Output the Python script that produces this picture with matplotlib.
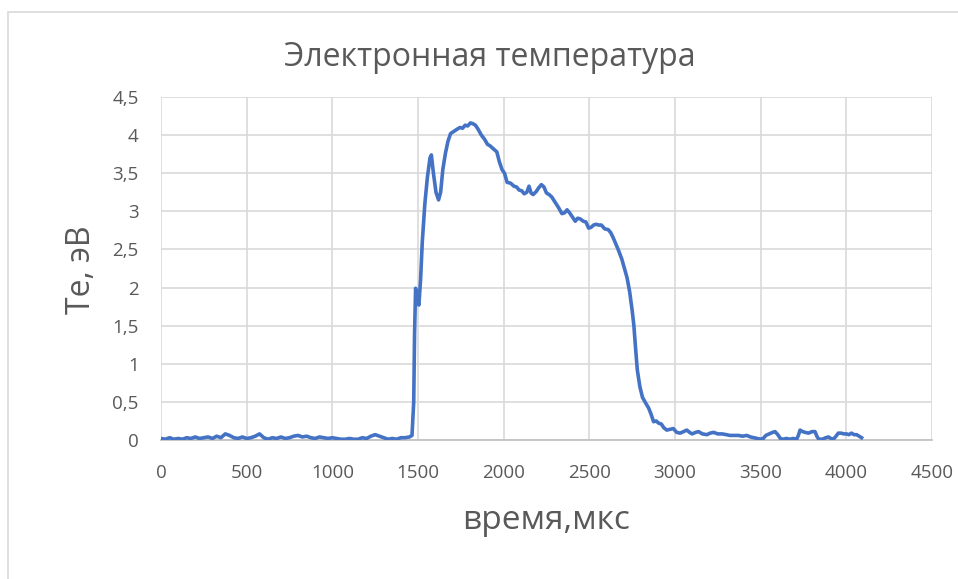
import numpy as np
import matplotlib.pyplot as plt
from matplotlib.ticker import FuncFormatter, MultipleLocator
from matplotlib.patches import Rectangle

# time, us
time_us = [0, 25, 50, 75, 100, 125, 150, 175, 200, 225, 250, 275, 300, 325, 350, 375,
           400, 425, 450, 475, 500, 525, 550, 575, 600, 625, 650, 675, 700, 725, 750,
           775, 800, 825, 850, 875, 900, 925, 950, 975, 1000, 1025, 1050, 1075, 1100,
           1125, 1150, 1175, 1200, 1225, 1250, 1275, 1300, 1325, 1350, 1375, 1400,
           1425, 1450, 1465,
           1475, 1480, 1486, 1495, 1505, 1515, 1525, 1540, 1555, 1570, 1578, 1590,
           1605, 1620, 1632, 1645, 1660, 1675, 1690, 1710, 1730, 1745, 1760, 1775,
           1790, 1806, 1820, 1835, 1850, 1870, 1890, 1905, 1920, 1940, 1960, 1975,
           1990, 2005, 2020, 2040, 2060, 2075, 2090, 2105, 2120, 2135, 2148, 2160,
           2172, 2190, 2205, 2220, 2235, 2250, 2265, 2280, 2300, 2320, 2340, 2355,
           2370, 2385, 2400, 2418, 2432, 2447, 2465, 2480, 2496, 2510, 2525, 2540,
           2555, 2570, 2590, 2610, 2625, 2640, 2655, 2670, 2690, 2705, 2720, 2735,
           2750, 2760, 2770, 2780, 2795, 2810, 2830, 2846, 2860, 2875, 2890, 2905,
           2920, 2935, 2952, 2970, 2990, 3010, 3030, 3050, 3069, 3085, 3100, 3120,
           3137, 3160, 3186, 3205, 3225, 3250, 3275, 3300, 3320, 3342, 3370, 3395,
           3419, 3440, 3460, 3480, 3497, 3515, 3530, 3550, 3570, 3584, 3600, 3615,
           3630, 3650, 3670, 3690, 3710, 3720, 3730, 3745, 3760, 3779, 3800, 3817,
           3830, 3840, 3860, 3880, 3895, 3910, 3924, 3940, 3953, 3970, 3985, 4001,
           4015, 4030, 4045, 4060, 4075, 4089]

# electron temperature, eV
te_ev = [0.02, 0.01, 0.03, 0.01, 0.02, 0.01, 0.03, 0.02, 0.04, 0.02, 0.03, 0.04, 0.02,
         0.05, 0.03, 0.08, 0.06, 0.03, 0.02, 0.04, 0.02, 0.03, 0.05, 0.08, 0.03, 0.01,
         0.03, 0.02, 0.04, 0.02, 0.03, 0.05, 0.06, 0.04, 0.05, 0.03, 0.02, 0.04, 0.03,
         0.02, 0.03, 0.02, 0.01, 0.01, 0.02, 0.01, 0.01, 0.03, 0.02, 0.05, 0.07, 0.05,
         0.03, 0.01, 0.02, 0.01, 0.03, 0.03, 0.04, 0.06,
         0.5, 1.4, 1.99, 1.85, 1.77, 2.1, 2.6, 3.1, 3.45, 3.7, 3.74, 3.5,
         3.25, 3.15, 3.25, 3.55, 3.76, 3.92, 4.02, 4.05, 4.08, 4.10, 4.09, 4.13,
         4.12, 4.16, 4.15, 4.13, 4.08, 4.0, 3.94, 3.88, 3.86, 3.82, 3.78, 3.65,
         3.55, 3.50, 3.38, 3.37, 3.33, 3.32, 3.28, 3.27, 3.23, 3.25, 3.33, 3.24,
         3.22, 3.26, 3.31, 3.35, 3.32, 3.24, 3.22, 3.19, 3.12, 3.05, 2.97, 2.98,
         3.02, 2.98, 2.93, 2.87, 2.91, 2.90, 2.87, 2.86, 2.78, 2.79, 2.82, 2.83,
         2.82, 2.82, 2.77, 2.76, 2.72, 2.65, 2.57, 2.49, 2.37, 2.25, 2.13, 1.95,
         1.70, 1.50, 1.20, 0.92, 0.70, 0.56, 0.48, 0.42, 0.34, 0.24, 0.25, 0.22,
         0.21, 0.16, 0.13, 0.14, 0.15, 0.10, 0.09, 0.11, 0.13, 0.10, 0.08, 0.10,
         0.11, 0.08, 0.07, 0.09, 0.10, 0.08, 0.08, 0.07, 0.06, 0.06, 0.06, 0.05,
         0.06, 0.04, 0.03, 0.02, 0.01, 0.02, 0.06, 0.08, 0.10, 0.11, 0.07, 0.02,
         0.01, 0.02, 0.01, 0.02, 0.01, 0.06, 0.13, 0.11, 0.10, 0.09, 0.11, 0.11,
         0.04, 0.01, 0.01, 0.03, 0.04, 0.02, 0.01, 0.05, 0.09, 0.09, 0.08, 0.08,
         0.07, 0.09, 0.07, 0.07, 0.05, 0.03]

TEXT = '#595959'
W, H = 958, 579
plt.rcParams['font.family'] = ['Open Sans', 'DejaVu Sans']

fig = plt.figure(figsize=(W / 100, H / 100), dpi=100)
# chart frame, only left and top edges fall inside the picture
fig.patches.append(Rectangle((8 / W, -0.1), 1.2, 1 - 12 / H + 0.1, transform=fig.transFigure,
                             fill=False, edgecolor='#D9D9D9', linewidth=1.2))
ax = fig.add_axes([161 / W, 1 - 440 / H, (932 - 161) / W, (440 - 97) / H])

ax.plot(time_us, te_ev, color='#4472C4', linewidth=2.6, solid_joinstyle='round', zorder=3)

ax.set_xlim(0, 4500)
ax.set_ylim(0, 4.5)
ax.xaxis.set_major_locator(MultipleLocator(500))
ax.yaxis.set_major_locator(MultipleLocator(0.5))
ax.yaxis.set_major_formatter(FuncFormatter(lambda v, p: ('%g' % v).replace('.', ',')))
ax.grid(True, color='#D9D9D9', linewidth=1.2, zorder=0)
for s in ['top', 'right', 'left']:
    ax.spines[s].set_visible(False)
ax.spines['bottom'].set_color('#BFBFBF')
ax.spines['bottom'].set_linewidth(1.2)
ax.tick_params(length=0, labelsize=13.5, labelcolor=TEXT)
ax.tick_params(axis='x', pad=17)
ax.tick_params(axis='y', pad=16)

fig.text(490 / W, 1 - 66 / H, 'Электронная температура', fontsize=23, color=TEXT,
         ha='center', va='baseline')
fig.text(546 / W, 1 - 529 / H, 'время,мкс', fontsize=24, color=TEXT,
         ha='center', va='baseline')
fig.text(90 / W, 1 - 270 / H, 'Te, эВ', fontsize=23, color=TEXT, rotation=90,
         ha='center', va='baseline', rotation_mode='anchor')

fig.savefig('out.png', dpi=100)
